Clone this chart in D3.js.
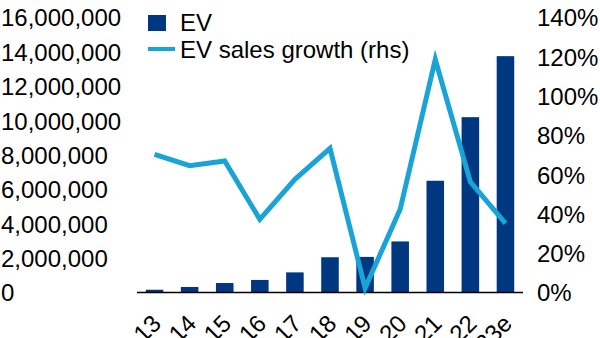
<!DOCTYPE html>
<html>
<head>
<meta charset="utf-8">
<script src="https://cdn.jsdelivr.net/npm/d3@7/dist/d3.min.js"></script>
<style>
  html, body { margin: 0; padding: 0; background: #fff; }
  svg { display: block; font-family: "Liberation Sans", Arial, sans-serif; }
</style>
</head>
<body>
<svg id="chart" width="600" height="338"></svg>
<script>
// Years on the category axis
const years = ["13", "14", "15", "16", "17", "18", "19", "20", "21", "22", "23e"];
// EV sales (units), left axis
const evSales = [190000, 350000, 580000, 760000, 1200000, 2080000, 2100000, 3000000, 6530000, 10230000, 13780000];
// EV sales growth (%), right axis
const evGrowth = [70.6, 64.8, 67.2, 37.5, 57.9, 73.6, 2.5, 42.6, 118.9, 56.6, 35.5];
// Axis ticks
const leftTicks = [0, 2000000, 4000000, 6000000, 8000000, 10000000, 12000000, 14000000, 16000000];
const rightTicks = [0, 20, 40, 60, 80, 100, 120, 140];

const barColor = "#003781";
const lineColor = "#19a3d6";

const svg = d3.select("#chart");
const plot = { left: 137, right: 523, top: 18, bottom: 293 };

const x = d3.scaleBand().domain(years).range([plot.left, plot.right]).paddingInner(0.5).paddingOuter(0.25);
const yL = d3.scaleLinear().domain([0, 16000000]).range([plot.bottom, plot.top]);
const yR = d3.scaleLinear().domain([0, 140]).range([plot.bottom, plot.top]);

// Bars
svg.append("g").selectAll("rect").data(years).join("rect")
  .attr("x", d => x(d))
  .attr("width", x.bandwidth())
  .attr("y", (d, i) => yL(evSales[i]))
  .attr("height", (d, i) => yL(0) - yL(evSales[i]))
  .attr("fill", barColor);

// Category axis baseline
svg.append("line")
  .attr("x1", plot.left).attr("x2", plot.right)
  .attr("y1", plot.bottom - 0.5).attr("y2", plot.bottom - 0.5)
  .attr("stroke", "#000").attr("stroke-width", 1.5);

// Growth line
const line = d3.line()
  .x((d, i) => x(years[i]) + x.bandwidth() / 2)
  .y(d => yR(d));
svg.append("path")
  .datum(evGrowth)
  .attr("d", line)
  .attr("fill", "none")
  .attr("stroke", lineColor)
  .attr("stroke-width", 5)
  .attr("stroke-linejoin", "miter");

// Left axis labels
const fmt = d3.format(",");
svg.append("g").selectAll("text").data(leftTicks).join("text")
  .attr("x", 1)
  .attr("y", d => yL(d))
  .attr("dy", "0.35em")
  .attr("font-size", 24)
  .attr("fill", "#000")
  .text(d => fmt(d));

// Right axis labels
svg.append("g").selectAll("text").data(rightTicks).join("text")
  .attr("x", 537)
  .attr("y", d => yR(d))
  .attr("dy", "0.35em")
  .attr("font-size", 24)
  .attr("fill", "#000")
  .text(d => d + "%");

// Rotated category labels
svg.append("g").selectAll("text").data(years).join("text")
  .attr("transform", d => `translate(${x(d) + x.bandwidth() / 2 + 2},${319}) rotate(-45)`)
  .attr("text-anchor", "end")
  .attr("dy", "0.35em")
  .attr("font-size", 24)
  .attr("fill", "#000")
  .text(d => d);

// Legend
const legend = svg.append("g");
legend.append("rect").attr("x", 148).attr("y", 15).attr("width", 18).attr("height", 16).attr("fill", barColor);
legend.append("text").attr("x", 180).attr("y", 31).attr("font-size", 24).text("EV");
legend.append("line").attr("x1", 148).attr("x2", 175).attr("y1", 49).attr("y2", 49)
  .attr("stroke", lineColor).attr("stroke-width", 4);
legend.append("text").attr("x", 180).attr("y", 58).attr("font-size", 24).text("EV sales growth (rhs)");
</script>
</body>
</html>
